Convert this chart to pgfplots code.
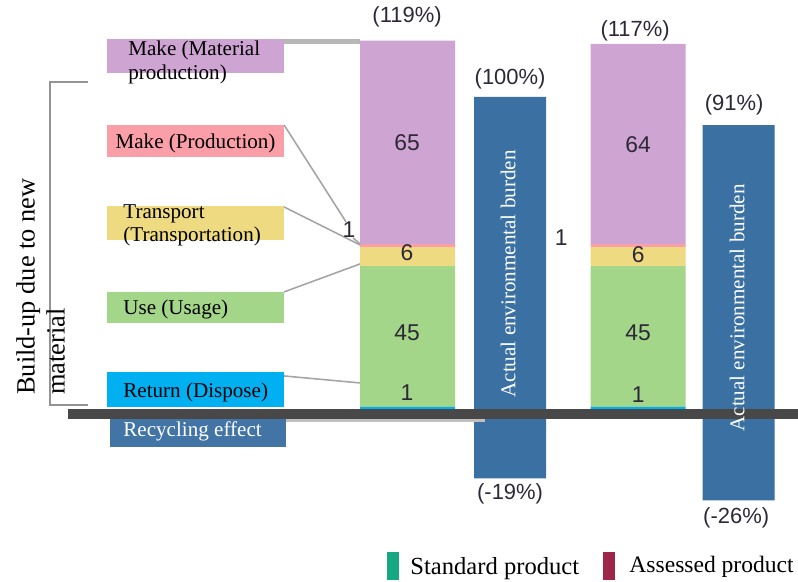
\documentclass[border=0pt]{standalone}
\usepackage{fontspec}
\setmainfont{Liberation Serif}
\newfontfamily\arial{Liberation Sans}
\usepackage{pgfplots}
\pgfplotsset{compat=1.18}

\definecolor{cMat}{RGB}{206,164,210}
\definecolor{cProd}{RGB}{250,158,168}
\definecolor{cTrans}{RGB}{238,218,128}
\definecolor{cUse}{RGB}{164,214,138}
\definecolor{cRet}{RGB}{0,176,240}
\definecolor{cAct}{RGB}{58,112,162}
\definecolor{cRec}{RGB}{66,116,166}
\definecolor{cBand}{RGB}{72,72,72}
\definecolor{cLine}{RGB}{165,165,165}
\definecolor{cStd}{RGB}{22,168,128}
\definecolor{cAss}{RGB}{158,38,74}
\definecolor{cNum}{RGB}{45,40,55}

% one canvas for both overlaid axes: x in picture pixels, y in percent
\pgfplotsset{
  canvas/.style={
    at={(0,0)}, anchor=south west, scale only axis,
    width=15.96cm, height=11.64cm,
    xmin=0, xmax=798, ymin=-54.95, ymax=130.99,
    hide axis, clip=false,
  }
}

\begin{document}
\begin{tikzpicture}
\path[use as bounding box] (0,0) rectangle (15.96,11.64);

% life-cycle stacks: standard product (x=407.5) and assessed product (x=638)
\begin{axis}[canvas, ybar stacked, bar width=95]
\addplot[fill=cRet, draw=none] coordinates {(407.5,1) (638,1)};
\addplot[fill=cUse, draw=none] coordinates {(407.5,45) (638,45)};
\addplot[fill=cTrans, draw=none] coordinates {(407.5,6) (638,6)};
\addplot[fill=cProd, draw=none] coordinates {(407.5,1) (638,1)};
\addplot[fill=cMat, draw=none] coordinates {(407.5,65) (638,64)};
\end{axis}

% actual environmental burden, build-up and recycling effect
\begin{axis}[canvas, ybar, bar width=72]
\addplot[fill=cAct, draw=none, bar shift=0pt] coordinates {(510,100) (738.5,91)};
\addplot[fill=cAct, draw=none, bar shift=0pt, yshift=-0.18cm] coordinates {(510,-19) (738.5,-26)};
\end{axis}

\begin{scope}[x=0.02cm, y=-0.02cm, shift={(0,-582)}]
% recycling lead line and zero band
\fill[cLine!70] (284,419) rectangle (485,422);
\fill[cBand] (68,409) rectangle (798,419);

% bracket
\draw[cLine!90!black, line width=1.3pt] (88,82) -- (50,82) -- (50,405) -- (88,405);

% lead lines
\draw[cLine!80, line width=2.8pt] (284,42) -- (360,42);
\draw[cLine, line width=0.9pt] (284,125) -- (346,222);
\draw[cLine, line width=0.9pt] (353,238) -- (360,244);
\draw[cLine, line width=0.9pt] (284,207) -- (360,245);
\draw[cLine, line width=0.9pt] (284,292) -- (360,264);
\draw[cLine, line width=0.9pt] (284,376) -- (360,383);

% category boxes
\fill[cMat] (107,39) rectangle (284,73);
\fill[cProd] (107,125) rectangle (284,157);
\fill[cTrans] (107,206) rectangle (284,240);
\fill[cUse] (107,292) rectangle (284,323);
\fill[cRet] (107,372) rectangle (284,407);
\fill[cRec] (110,419) rectangle (286,447);

\begin{scope}[font=\fontsize{12}{13.6}\selectfont, inner sep=0pt]
\node[anchor=north west, align=left] at (128,41) {Make (Material\\production)};
\node[anchor=base] at (195.5,149) {Make (Production)};
\node[anchor=north west, align=left] at (123,204) {Transport\\(Transportation)};
\node[anchor=base west] at (123,315) {Use (Usage)};
\node[anchor=base west] at (123,398) {Return (Dispose)};
\node[anchor=base west, text=white] at (123,437) {Recycling effect};
\node[rotate=90, text=white] at (508,274) {Actual environmental burden};
\node[rotate=90, text=white] at (737,308) {Actual environmental burden};
\end{scope}

\node[rotate=90, anchor=north west, inner sep=0pt, align=left,
  font=\fontsize{15}{17}\selectfont] at (16,395) {Build-up due to new\\material};

% values in the stacks
\begin{scope}[font=\arial\fontsize{13}{15}\selectfont, text=cNum]
\node at (407,143) {65};
\node at (407,253) {6};
\node at (407,333) {45};
\node at (407,393) {1};
\node at (349,230) {1};
\node at (638,145) {64};
\node at (638,255) {6};
\node at (638,333) {45};
\node at (638,395) {1};
\node at (561,238) {1};
\end{scope}

% totals
\begin{scope}[font=\arial\fontsize{12.5}{14}\selectfont, text=cNum]
\node at (407,17) {(119\%)};
\node at (510,79) {(100\%)};
\node at (635,31) {(117\%)};
\node at (734,105) {(91\%)};
\node at (510,494) {(-19\%)};
\node at (736,518) {(-26\%)};
\end{scope}

% legend
\fill[cStd] (387,552) rectangle (399,580);
\node[anchor=base west, inner sep=0pt, font=\fontsize{14}{16}\selectfont] at (410,575) {Standard product};
\fill[cAss] (603,552) rectangle (615,580);
\node[anchor=base west, inner sep=0pt, font=\fontsize{13.4}{16}\selectfont] at (629,573) {Assessed product};
\end{scope}
\end{tikzpicture}
\end{document}
